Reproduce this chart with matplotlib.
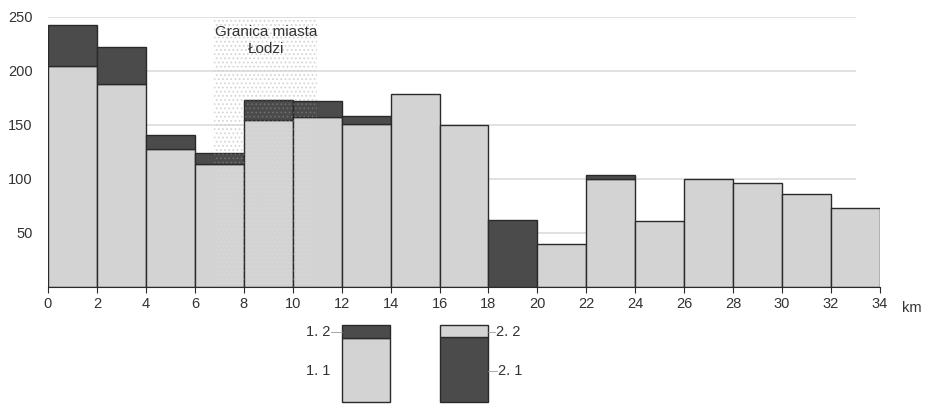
import matplotlib.pyplot as plt
from matplotlib.patches import Rectangle

plt.rcParams['font.family'] = ['Liberation Sans', 'DejaVu Sans']
plt.rcParams['hatch.linewidth'] = 0.7

# distance bins (km) and values
km_edges = list(range(0, 36, 2))
series_11 = [205, 188, 128, 114, 155, 157, 151, 179, 150, 0, 40, 100, 61, 100, 96, 86, 73]
series_12 = [38, 34, 13, 10, 18, 15, 7, 0, 0, 0, 0, 4, 0, 0, 0, 0, 0]
series_21 = [0, 0, 0, 0, 0, 0, 0, 0, 0, 62, 0, 0, 0, 0, 0, 0, 0]
series_22 = [0] * 17
x_ticks = list(range(0, 36, 2))
y_ticks = [50, 100, 150, 200, 250]
boundary_km = (6.8, 11)

LIGHT = '#d3d3d3'
DARK = '#4b4b4b'
EDGE = '#2a2a2a'
TXT = '#333333'
FS = 10.5

W, H = 929, 407
fig = plt.figure(figsize=(W / 100, H / 100), dpi=100)
ax = fig.add_axes([48 / W, 1 - 287 / H, 832 / W, 270 / H])

lefts = km_edges[:-1]
for i, left in enumerate(lefts):
    if series_21[i] > 0:
        ax.bar(left, series_21[i], width=2, align='edge', color=DARK, edgecolor=EDGE, lw=1, zorder=2)
        if series_22[i] > 0:
            ax.bar(left, series_22[i], bottom=series_21[i], width=2, align='edge',
                   color=LIGHT, edgecolor=EDGE, lw=1, zorder=2)
    else:
        ax.bar(left, series_11[i], width=2, align='edge', color=LIGHT, edgecolor=EDGE, lw=1, zorder=2)
        if series_12[i] > 0:
            ax.bar(left, series_12[i], bottom=series_11[i], width=2, align='edge',
                   color=DARK, edgecolor=EDGE, lw=1, zorder=2)

# faint grid
ax.hlines(y_ticks, 0, 33, colors='#dcdcdc', lw=1.2, zorder=1)

# city boundary zone: grey dots on white, paler dots over the bars
ax.axvspan(boundary_km[0], boundary_km[1], facecolor='none', edgecolor='#cfcfcf',
           hatch='....', lw=0, zorder=1.5)
ax.axvspan(boundary_km[0], boundary_km[1], facecolor='none', edgecolor='#ececec',
           hatch='....', lw=0, alpha=0.18, zorder=3)
ax.text(8.9, 228, 'Granica miasta\nŁodzi', ha='center', va='center', fontsize=11,
        color=TXT, linespacing=1.3, zorder=4)

ax.set_xlim(0, 34)
ax.set_ylim(0, 250)
for s in ['left', 'right', 'top']:
    ax.spines[s].set_visible(False)
ax.spines['bottom'].set_color(EDGE)
ax.set_xticks(x_ticks)
ax.set_yticks(y_ticks)
ax.tick_params(axis='x', length=4, color=EDGE, labelsize=FS, labelcolor=TXT, pad=3)
ax.tick_params(axis='y', length=0, labelsize=FS, labelcolor=TXT, pad=11)
for lbl in ax.get_yticklabels():
    lbl.set_verticalalignment('center_baseline')
fig.text(912 / W, 1 - 308 / H, 'km', ha='center', va='center', fontsize=FS, color=TXT)

# legend drawn by hand below the plot
lg = fig.add_axes([0, 0, 1, 1], zorder=5)
lg.set_xlim(0, W)
lg.set_ylim(H, 0)
lg.axis('off')
lg.add_patch(Rectangle((342, 338), 48, 64, facecolor=LIGHT, edgecolor=EDGE, lw=1))
lg.add_patch(Rectangle((342, 325), 48, 13, facecolor=DARK, edgecolor=EDGE, lw=1))
lg.add_patch(Rectangle((440, 337), 48, 65, facecolor=DARK, edgecolor=EDGE, lw=1))
lg.add_patch(Rectangle((440, 325), 48, 12, facecolor=LIGHT, edgecolor=EDGE, lw=1))
lg.text(330, 332, '1. 2', ha='right', va='center', fontsize=FS, color=TXT)
lg.text(330, 371, '1. 1', ha='right', va='center', fontsize=FS, color=TXT)
lg.text(496, 332, '2. 2', ha='left', va='center', fontsize=FS, color=TXT)
lg.text(498, 371, '2. 1', ha='left', va='center', fontsize=FS, color=TXT)
lg.plot([331, 342], [332, 332], color='#999999', lw=0.6)
lg.plot([488, 495], [332, 332], color='#999999', lw=0.6)
lg.plot([488, 497], [371, 371], color='#999999', lw=0.6)

fig.savefig('out.png', dpi=100)
